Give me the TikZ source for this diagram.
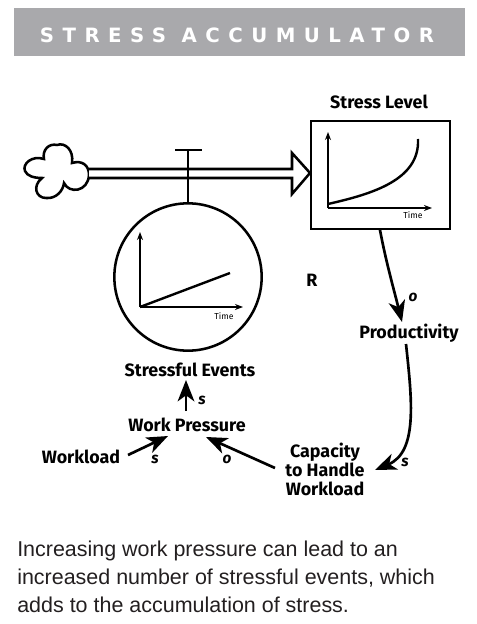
\documentclass[tikz,border=0pt]{standalone}
\usepackage{fontspec}
\setmainfont{Liberation Sans}
\newfontfamily\titlefont{DejaVu Sans}[LetterSpace=43]
\newfontfamily\hand{Fira Sans}
\usetikzlibrary{arrows.meta,calc}
\definecolor{band}{HTML}{A9A9AC}
\definecolor{bodyc}{HTML}{231F20}
\tikzset{
  lbl/.style={font=\hand\bfseries\fontsize{13.4}{14.3}\selectfont,align=center,inner sep=0pt,text=black},
  sgn/.style={font=\hand\bfseries\itshape\fontsize{11.5}{12}\selectfont,inner sep=0pt},
  tim/.style={font=\hand\fontsize{6.5}{7}\selectfont,inner sep=0pt},
  link/.style={line width=2pt,-{Stealth[length=16pt,width=12.5pt,inset=4.5pt]}},
  axis/.style={line width=1pt,-{Stealth[length=6pt,width=4.5pt]}},
  curveline/.style={line width=1.8pt},
  outline/.style={line width=1.9pt},
  para/.style={font=\fontsize{16.1}{21}\selectfont,text=bodyc,inner sep=0pt,anchor=north west,align=left}
}
\begin{document}
\begin{tikzpicture}[x=0.75pt,y=-0.75pt]
\useasboundingbox (0,0) rectangle (476,624);
\fill[band] (14,8) rectangle (465,56);
\node[font=\titlefont\bfseries\fontsize{14.8}{16}\selectfont,text=white,inner sep=0pt] (title) at (237,35.5) {STRESS ACCUMULATOR};

\node[lbl] (stresslabel) at (379,102) {Stress Level};
\node[draw,outline,minimum width=104pt,minimum height=81pt,inner sep=0pt] (stock) at (380.5,175) {};

\draw[outline,fill=white] (89,175)
 .. controls (89,165) and (82,160) .. (72,163)
 .. controls (74,150) and (65,142) .. (57,145)
 .. controls (49,143) and (42,150) .. (44,159)
 .. controls (32,155) and (22,164) .. (25,171)
 .. controls (27,176) and (34,178) .. (42,178)
 .. controls (32,186) and (36,198) .. (46,198)
 .. controls (56,199) and (63,191) .. (64,183)
 .. controls (69,194) and (88,192) .. (89,175) -- cycle;

\coordinate (tip) at (310,173);
\draw[outline,fill=white,line join=miter] (89,169) -- (292,169) -- (292,153) -- (tip) -- (292,194) -- (292,178) -- (89,178);

\coordinate (valvetop) at (188,150);
\draw[outline] (175,150) -- (202,150);
\node[draw,outline,circle,minimum size=110.5pt,inner sep=0pt] (flowcircle) at (188,277) {};
\draw[outline] (valvetop) -- (flowcircle.north);

\coordinate (c0) at (140,307);
\draw[axis] (c0) -- (140,232);
\draw[axis] (c0) -- (243,307);
\draw[curveline] (c0) -- (230,273);
\node[tim] (time1) at (224,316) {Time};

\coordinate (s0) at (328,208);
\draw[axis] (s0) -- (328,132);
\draw[axis] (s0) -- (432,208);
\draw[curveline] (328,204) .. controls (372,194) and (420,180) .. (418,139);
\node[tim] (time2) at (413,215) {Time};

\node[lbl] (R) at (312,280) {R};
\node[lbl] (prod) at (409,333) {Productivity};
\node[lbl] (events) at (190,370) {Stressful Events};
\node[lbl] (pressure) at (187,425) {Work Pressure};
\node[lbl] (wl) at (81,457) {Workload};
\node[lbl] (cap) at (325,469) {Capacity\\to Handle\\Workload};

\draw[link] (380,230) .. controls (386,262) and (394,290) .. (402,322);
\node[sgn] (so1) at (413,297) {o};
\draw[link] (406,344) .. controls (412,400) and (418,452) .. (375,470);
\node[sgn] (ss1) at (405,462) {s};
\draw[link] (186,411) -- (186,380);
\node[sgn] (ss2) at (202,400) {s};
\draw[link] (128,455) -- (168,436);
\node[sgn] (ss3) at (155,459) {s};
\draw[link] (275,468) -- (206,437);
\node[sgn] (so2) at (227,459) {o};

\node[para] (body) at (17,541) {Increasing work pressure can lead to an\\increased number of stressful events, which\\adds to the accumulation of stress.};
\end{tikzpicture}
\end{document}
